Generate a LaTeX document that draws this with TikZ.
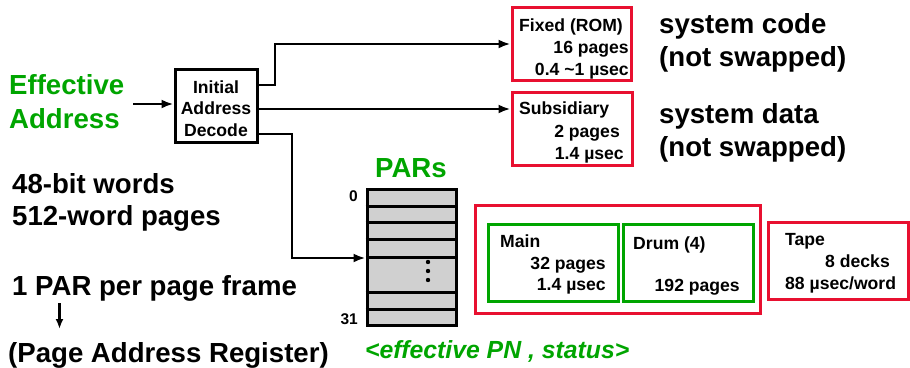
\documentclass[tikz,border=0pt]{standalone}
\usepackage{fontspec}
\setmainfont{Liberation Sans}
\usetikzlibrary{arrows.meta}
\definecolor{eagreen}{RGB}{0,165,0}
\definecolor{memred}{RGB}{232,16,48}
\definecolor{pargray}{RGB}{208,208,208}
\begin{document}
\begin{tikzpicture}[x=1pt,y=-1pt,
  big/.style={inner sep=0pt,font=\fontsize{27.6}{32}\selectfont\bfseries},
  mid/.style={inner sep=0pt,font=\fontsize{24.8}{29}\selectfont\bfseries\itshape},
  small/.style={inner sep=0pt,font=\fontsize{17.6}{21}\selectfont\bfseries},
  tiny/.style={inner sep=0pt,font=\fontsize{15.5}{18}\selectfont\bfseries},
  blackbox/.style={draw=black,line width=3pt,inner sep=0pt},
  redbox/.style={draw=memred,line width=3pt,inner sep=0pt},
  greenbox/.style={draw=eagreen,line width=3pt,inner sep=0pt},
  arr/.style={draw=black,line width=2.8pt,-{Latex[length=12pt,width=9pt]}},
  rowline/.style={draw=black,line width=3pt}]
\useasboundingbox (0,0) rectangle (910,367);

% effective address input
\node[big,text=eagreen,anchor=base west] (eff1) at (9,94) {Effective};
\node[big,text=eagreen,anchor=base west] (eff2) at (9,128) {Address};
\coordinate (eain) at (133,104);

% initial address decode
\node[blackbox,minimum width=82pt,minimum height=73pt] (dec) at (216,106) {};
\node[small,anchor=base] (dec1) at (dec.center |- 0,93) {Initial};
\node[small,anchor=base] (dec2) at (dec.center |- 0,114.5) {Address};
\node[small,anchor=base] (dec3) at (dec.center |- 0,136) {Decode};
\draw[arr] (eain) -- (dec.west |- eain);

% fixed store
\node[redbox,minimum width=119pt,minimum height=73pt] (fixed) at (571.5,44) {};
\node[small,anchor=base west] (fx1) at (519,31) {Fixed (ROM)};
\node[small,anchor=base east] (fx2) at (629,53) {16 pages};
\node[small,anchor=base east] (fx3) at (629,75) {0.4 \textasciitilde1 µsec};

% subsidiary store
\node[redbox,minimum width=120pt,minimum height=73pt] (sub) at (572,129) {};
\node[small,anchor=base west] (sb1) at (519,114.5) {Subsidiary};
\node[small,anchor=base east] (sb2) at (620,137) {2 pages};
\node[small,anchor=base east] (sb3) at (624,159) {1.4 µsec};

% notes on the right
\node[big,anchor=base west] (sc1) at (659,33) {system code};
\node[big,anchor=base west] (sc2) at (659,66) {(not swapped)};
\node[big,anchor=base west] (sd1) at (659,123) {system data};
\node[big,anchor=base west] (sd2) at (659,156) {(not swapped)};

% page address registers
\node[big,text=eagreen,anchor=base west] (parl) at (375,177) {PARs};
\node[rowline,fill=pargray,inner sep=0pt,minimum width=89pt,minimum height=136.5pt] (par) at (411.5,257.5) {};
\foreach \yy in {206,222.5,239.5,257,292,309}
  \draw[rowline] (par.west |- 0,\yy) -- (par.east |- 0,\yy);
\foreach \yy in {262,271,280}
  \fill (428,\yy) circle (2.2pt);
\node[tiny,anchor=base east] (n0) at (358,201) {0};
\node[tiny,anchor=base east] (n31) at (358,324) {31};
\node[mid,text=eagreen,anchor=base west] (pn) at (365,358) {<effective PN , status>};

% connectors from the decoder
\coordinate (up) at (275,85);
\coordinate (dn) at (292,134);
\draw[arr] (dec.east |- up) -- (up) -- (up |- fixed.west) -- (fixed.west);
\draw[arr] (dec.east |- 0,109) -- (sub.west |- 0,109);
\draw[arr] (dec.east |- dn) -- (dn) -- (dn |- 0,258) -- (par.west |- 0,258);

% swappable stores
\node[redbox,minimum width=285pt,minimum height=108pt] (swap) at (617.5,259) {};
\node[greenbox,minimum width=130pt,minimum height=77pt] (main) at (553,262.5) {};
\node[small,anchor=base west] (mn1) at (500,247) {Main};
\node[small,anchor=base east] (mn2) at (606,269) {32 pages};
\node[small,anchor=base east] (mn3) at (606,290.5) {1.4 µsec};
\node[greenbox,minimum width=130pt,minimum height=77pt] (drum) at (688,262.5) {};
\node[small,anchor=base west] (dr1) at (633,249) {Drum (4)};
\node[small,anchor=base east] (dr2) at (740,291.5) {192 pages};

% tape
\node[redbox,minimum width=140pt,minimum height=77pt] (tape) at (838,260.5) {};
\node[small,anchor=base west] (tp1) at (785,245) {Tape};
\node[small,anchor=base east] (tp2) at (890,267) {8 decks};
\node[small,anchor=base west] (tp3) at (785,289.5) {88 µsec/word};

% notes on the left
\node[big,anchor=base west] (w1) at (12,193) {48-bit words};
\node[big,anchor=base west] (w2) at (12,225) {512-word pages};
\node[big,anchor=base west] (pp) at (12,295) {1 PAR per page frame};
\node[big,anchor=base west] (par2) at (8,362) {(Page Address Register)};
\coordinate (pa1) at (59.5,303);
\coordinate (pa2) at (59.5,329);
\draw[draw=black,line width=2.4pt,-{Latex[length=10pt,width=8pt]}] (pa1) -- (pa2);
\end{tikzpicture}
\end{document}
